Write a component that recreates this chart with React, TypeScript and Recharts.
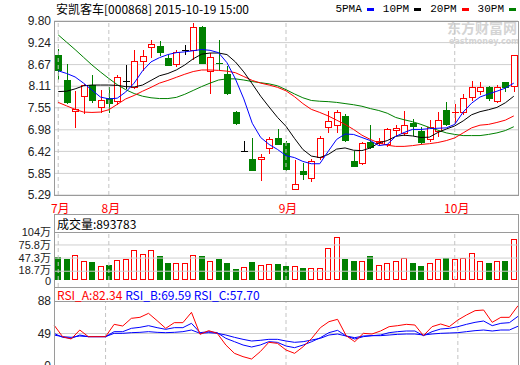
import React from 'react';
import { ComposedChart, Bar, Line, XAxis, YAxis, CartesianGrid, ReferenceLine } from 'recharts';

// trading days on screen (2015)
const dates = [
  '07-24', '07-27', '07-28', '07-29', '07-30', '07-31',
  '08-03', '08-04', '08-05', '08-06', '08-07', '08-10', '08-11', '08-12', '08-13', '08-14',
  '08-17', '08-18', '08-19', '08-20', '08-21', '08-24', '08-25', '08-26', '08-27', '08-28', '08-31',
  '09-01', '09-02', '09-07', '09-08', '09-09', '09-10', '09-11', '09-14', '09-15', '09-16',
  '09-17', '09-18', '09-21', '09-22', '09-23', '09-24', '09-25', '09-28', '09-29', '09-30',
  '10-08', '10-09', '10-12', '10-13', '10-14', '10-15', '10-16', '10-19',
];
const monthStarts = ['07-24', '08-03', '09-01', '10-08'];
const monthNames = ['7月', '8月', '9月', '10月'];

const opens = [
  8.93, 8.27, 7.47, 7.85, 8.14, 7.56, 7.80, 7.72, 8.24, 8.08,
  8.76, 9.13, 9.15, 8.84, 8.69, 9.06, 9.06, 9.65, 8.50, 8.72,
  8.43, 7.45, 6.42, 6.23, 6.22, 6.51, 6.77, 6.63, 5.44, 5.90,
  5.73, 6.27, 7.04, 7.10, 7.34, 6.16, 6.12, 6.67, 6.63, 6.60,
  6.97, 6.90, 7.15, 6.96, 6.73, 6.95, 7.50, 7.42, 7.45, 7.82,
  7.99, 8.10, 7.73, 8.22, 8.12,
];
const highs = [
  9.07, 8.69, 7.99, 8.16, 8.40, 8.01, 8.10, 8.39, 8.65, 9.06,
  9.04, 9.32, 9.29, 8.91, 9.06, 9.19, 9.74, 9.66, 8.97, 9.32,
  8.63, 7.46, 6.68, 6.76, 6.34, 6.79, 7.01, 6.68, 6.21, 6.12,
  6.22, 6.81, 7.47, 7.49, 7.40, 6.44, 6.66, 7.10, 6.77, 7.02,
  7.10, 7.47, 7.27, 7.04, 7.23, 7.44, 7.69, 7.64, 7.91, 8.25,
  8.21, 8.12, 8.14, 8.23, 8.93,
];
const lows = [
  8.30, 7.67, 7.05, 7.42, 7.69, 7.44, 7.43, 7.64, 8.06, 8.06,
  8.53, 8.87, 8.93, 8.65, 8.63, 8.95, 8.82, 8.70, 7.93, 8.54,
  7.91, 7.12, 6.42, 5.93, 5.68, 6.38, 6.60, 5.94, 5.44, 5.70,
  5.66, 6.23, 6.92, 6.92, 6.70, 6.03, 6.10, 6.51, 6.60, 6.57,
  6.84, 6.84, 6.84, 6.64, 6.70, 6.82, 7.10, 7.19, 7.38, 7.75,
  7.92, 7.75, 7.71, 7.98, 7.99,
];
const closes = [
  8.54, 7.69, 7.53, 8.14, 7.75, 7.75, 7.68, 8.34, 8.24, 8.76,
  8.89, 9.21, 9.00, 8.67, 9.00, 9.06, 9.65, 8.72, 8.87, 8.71,
  7.93, 7.15, 6.42, 5.94, 6.28, 6.75, 6.62, 5.97, 5.57, 5.83,
  6.18, 6.77, 7.21, 7.44, 6.71, 6.03, 6.64, 6.53, 6.70, 6.99,
  7.02, 7.10, 7.08, 6.67, 7.05, 7.23, 7.12, 7.43, 7.80, 8.10,
  8.08, 7.80, 8.08, 8.10, 8.91,
];

const ma5 = [
  8.51, 8.44, 8.35, 8.19, 8.01, 7.83, 7.78, 7.80, 7.96, 8.19,
  8.51, 8.74, 8.85, 8.93, 8.98, 9.00, 9.03, 9.06, 9.04, 8.98,
  8.72, 8.30, 7.78, 7.15, 6.78, 6.60, 6.47, 6.31, 6.26, 6.16,
  6.10, 6.10, 6.42, 6.73, 6.87, 6.86, 6.78, 6.70, 6.57, 6.60,
  6.81, 6.91, 6.99, 6.99, 7.01, 7.02, 7.03, 7.12, 7.44, 7.67,
  7.83, 7.91, 7.98, 8.06, 8.19,
];
const ma10 = [
  7.97, 7.98, 8.04, 8.12, 8.14, 8.14, 8.14, 8.13, 8.10, 8.09,
  8.14, 8.26, 8.38, 8.44, 8.53, 8.66, 8.82, 8.94, 8.97, 8.97,
  8.93, 8.74, 8.48, 8.17, 7.85, 7.57, 7.30, 7.07, 6.76, 6.47,
  6.30, 6.26, 6.34, 6.48, 6.51, 6.45, 6.44, 6.51, 6.64, 6.70,
  6.81, 6.84, 6.82, 6.78, 6.79, 6.91, 7.00, 7.08, 7.21, 7.37,
  7.45, 7.50, 7.56, 7.68, 7.85,
];
const ma20 = [
  7.69, 7.60, 7.51, 7.44, 7.43, 7.44, 7.50, 7.64, 7.78, 7.87,
  7.98, 8.08, 8.19, 8.26, 8.34, 8.42, 8.49, 8.53, 8.53, 8.52,
  8.50, 8.46, 8.36, 8.26, 8.19, 8.14, 8.08, 7.99, 7.84, 7.66,
  7.51, 7.43, 7.34, 7.23, 7.12, 6.99, 6.84, 6.73, 6.64, 6.58,
  6.55, 6.55, 6.57, 6.60, 6.62, 6.65, 6.70, 6.77, 6.90, 7.03,
  7.10, 7.12, 7.17, 7.23, 7.34,
];
const ma30 = [
  9.44, 9.25, 9.06, 8.86, 8.66, 8.48, 8.31, 8.15, 8.02, 7.92,
  7.85, 7.81, 7.79, 7.79, 7.82, 7.90, 8.00, 8.10, 8.19, 8.27,
  8.30, 8.30, 8.27, 8.23, 8.20, 8.17, 8.12, 8.02, 7.91, 7.81,
  7.74, 7.72, 7.71, 7.69, 7.66, 7.63, 7.59, 7.53, 7.48, 7.41,
  7.30, 7.24, 7.19, 7.12, 7.04, 6.97, 6.90, 6.86, 6.83, 6.83,
  6.83, 6.86, 6.90, 6.96, 7.06,
];

// volume in 万 shares
const volumes = [
  49, 46, 53, 40, 38, 31, 33, 44, 46, 64,
  57, 64, 51, 36, 36, 37, 53, 51, 40, 46,
  36, 24, 28, 38, 33, 35, 35, 29, 29, 26,
  26, 26, 70, 94, 46, 40, 41, 51, 32, 37,
  41, 48, 37, 31, 37, 46, 48, 46, 48, 59,
  41, 37, 40, 40, 89.38,
];

const rsiA = [
  59.2, 45.2, 42.4, 53.2, 45.2, 45.2, 45.2, 60, 58, 67.2,
  68.4, 73.2, 64.4, 55.2, 62, 62, 74.4, 48, 52.4, 49.2,
  35.2, 25.2, 21.2, 18.4, 27.2, 38.4, 37.2, 29.2, 25.2, 33.2,
  43.2, 56, 63.2, 66, 46.4, 39.2, 49.2, 48.4, 52, 57.2,
  58.4, 60, 59.2, 46.4, 57.2, 60.4, 57.2, 65.2, 71.2, 76.4,
  77.2, 62.4, 68.4, 68.4, 82.34,
];
const rsiB = [
  49.2, 44.4, 43.2, 47.2, 45.2, 45.2, 45.2, 51.2, 51.2, 55.2,
  56.4, 58.4, 56, 54, 56, 56, 61.2, 50, 51.2, 50,
  43.2, 39.2, 35.2, 32.8, 35.2, 39.2, 38.4, 34, 32, 35.2,
  39.2, 44, 50, 52.8, 46, 42.4, 45.2, 46.4, 47.2, 50,
  51.2, 52, 52, 46.4, 51.2, 54.4, 55.2, 57.2, 60, 62.4,
  64, 58.4, 61.2, 62, 69.59,
];
const rsiC = [
  47.2, 45.2, 44.4, 46, 45.2, 45.2, 45.2, 49.2, 49.2, 50,
  50.4, 51.2, 50.4, 50, 50.4, 51.2, 53.2, 49.2, 50, 49.2,
  47.2, 44.4, 42, 40, 40.8, 42, 42, 40, 38.4, 39.2,
  41.2, 43.2, 47.2, 48.4, 46, 44, 46, 46.4, 46.4, 47.2,
  48, 48.4, 48.4, 47.2, 48.4, 49.2, 49.6, 50, 51.2, 52.4,
  53.2, 52, 53.2, 53.2, 57.7,
];

const priceTicks = [9.8, 9.24, 8.67, 8.11, 7.55, 6.98, 6.42, 5.85, 5.29];
const volTicks = [0, 18.7, 47.3, 75.8, 104];
const volGrid = [18.7, 47.3, 75.8];
const rsiTicks = [10, 49, 88];

const rows = dates.map((date, i) => ({
  date,
  open: opens[i], high: highs[i], low: lows[i], close: closes[i],
  ma5: ma5[i], ma10: ma10[i], ma20: ma20[i], ma30: ma30[i],
  vol: volumes[i],
  rsiA: rsiA[i], rsiB: rsiB[i], rsiC: rsiC[i],
}));

const RED = '#ff0000';
const GREEN = '#008000';
const BLUE = '#0000ff';
const GRID = '#cfcfcf';
const FRAME = '#9a9a9a';
const CJK = "'Noto Sans CJK SC', 'Liberation Sans', sans-serif";
const MONO = "'Liberation Mono', 'Noto Sans CJK SC', monospace";
const SANS = "'Liberation Sans', 'Noto Sans CJK SC', sans-serif";
const tickStyle = { fontSize: 12, fill: '#222', fontFamily: SANS };

function Candle(props: any) {
  const { x, y, width, height, payload } = props;
  const { open, close, high, low } = payload;
  const top0 = Math.min(y, y + height);
  const span = Math.abs(height);
  const py = (v: number) => (high > low ? top0 + ((high - v) / (high - low)) * span : top0);
  const mid = Math.round(x + width / 2);
  const left = mid - 3;
  const color = close > open ? RED : close < open ? GREEN : '#000000';
  const top = Math.round(py(Math.max(open, close)));
  const bot = Math.round(py(Math.min(open, close)));
  const h = bot - top;
  const wick = (
    <line x1={mid + 0.5} x2={mid + 0.5} y1={Math.round(py(high))} y2={Math.round(py(low)) + 1} stroke={color} />
  );
  if (h < 2) {
    return (
      <g>
        {wick}
        <line x1={left} x2={left + 7} y1={top + 0.5} y2={top + 0.5} stroke={color} />
      </g>
    );
  }
  if (close > open) {
    return (
      <g>
        {wick}
        <rect x={left + 0.5} y={top + 0.5} width={6} height={h} fill="#ffffff" stroke={color} />
      </g>
    );
  }
  return (
    <g>
      {wick}
      <rect x={left} y={top} width={7} height={h + 1} fill={color} />
    </g>
  );
}

function VolBar(props: any) {
  const { x, y, width, height, payload } = props;
  const mid = Math.round(x + width / 2);
  const left = mid - 3;
  const top = Math.round(Math.min(y, y + height));
  const bot = Math.round(Math.max(y, y + height));
  if (payload.close >= payload.open) {
    return <rect x={left + 0.5} y={top + 0.5} width={5} height={bot - top - 1} fill="#ffffff" stroke={RED} />;
  }
  return <rect x={left} y={top} width={6} height={bot - top} fill={GREEN} />;
}

// volume axis labels sit tight, as in the original
const volTick = (props: any) => {
  const { x, y, payload } = props;
  const v = payload.value;
  const shift = v === 0 ? 1.5 : v === 18.7 ? -1.5 : 0;
  return (
    <text x={x} y={y + shift} dy="0.355em" textAnchor="end" fontSize={11} fill="#222" fontFamily={SANS}>
      {v === 0 ? '0' : `${v}万`}
    </text>
  );
};

const monthTick = (props: any) => {
  const { x, y, payload } = props;
  const k = monthStarts.indexOf(payload.value);
  if (k < 0) return <g />;
  return (
    <text x={x + 2} y={y + 10} textAnchor="middle" fill={RED} fontSize={12} fontFamily={CJK}>
      {monthNames[k]}
    </text>
  );
};

const box = (left: number, top: number, width: number, height: number, extra: any = {}) => ({
  position: 'absolute' as const,
  left, top, width, height,
  boxSizing: 'border-box' as const,
  border: `1px solid ${FRAME}`,
  pointerEvents: 'none' as const,
  ...extra,
});

const legendItems = [
  { label: '5PMA', color: BLUE },
  { label: '10PM', color: '#000000' },
  { label: '20PM', color: RED },
  { label: '30PM', color: GREEN },
];

export default function App() {
  return (
    <div style={{ position: 'absolute', left: 0, top: 0, width: 520, height: 365, overflow: 'hidden', background: '#fff' }}>
      {/* watermark */}
      <div style={{ position: 'absolute', left: 447, top: 20, color: '#d4d4d4', fontFamily: CJK, fontSize: 14, fontWeight: 700, lineHeight: '15px', whiteSpace: 'nowrap' }}>
        东方财富网
      </div>
      <div style={{ position: 'absolute', left: 449, top: 37, color: '#d4d4d4', fontFamily: "'DejaVu Sans', sans-serif", fontSize: 8, fontWeight: 700, lineHeight: '9px', whiteSpace: 'nowrap' }}>
        eastmoney.com
      </div>

      <div style={{ position: 'absolute', left: 56, top: 1, fontFamily: CJK, fontSize: 12, lineHeight: '16px', color: '#000', whiteSpace: 'pre' }}>
        安凯客车[000868] 2015-10-19 15:00
      </div>
      <div style={{ position: 'absolute', right: 4, top: 2, fontFamily: MONO, fontSize: 11, lineHeight: '14px', color: '#000', display: 'flex', alignItems: 'center', whiteSpace: 'pre' }}>
        {legendItems.map((it, i) => (
          <span key={it.label} style={{ display: 'flex', alignItems: 'center' }}>
            <span>{it.label}</span>
            <span style={{ display: 'inline-block', width: 7, height: 3, background: it.color, margin: i < 3 ? '0 9px 0 5px' : '0 0 0 5px' }} />
          </span>
        ))}
      </div>

      {/* price panel */}
      <div style={{ position: 'absolute', left: 0, top: 0 }}>
        <ComposedChart width={520} height={215} data={rows} margin={{ top: 21, right: 2, bottom: 0, left: 0 }}>
          <CartesianGrid vertical={false} stroke={GRID} />
          <XAxis dataKey="date" interval={0} tickLine={false} axisLine={false} height={20} tick={monthTick} />
          <YAxis
            domain={[5.29, 9.8]}
            ticks={priceTicks}
            interval={0}
            width={54}
            tickLine={false}
            axisLine={false}
            tickSize={0}
            tickMargin={3}
            tick={tickStyle}
            tickFormatter={(v: number) => v.toFixed(2)}
          />
          {monthStarts.map((d) => (
            <ReferenceLine key={d} x={d} stroke="#c4c4c4" strokeDasharray="4 3" />
          ))}
          <Bar dataKey={(d: any) => [d.low, d.high]} shape={(p: any) => <Candle {...p} />} isAnimationActive={false} />
          <Line dataKey="ma30" stroke={GREEN} dot={false} strokeWidth={1} isAnimationActive={false} />
          <Line dataKey="ma20" stroke={RED} dot={false} strokeWidth={1} isAnimationActive={false} />
          <Line dataKey="ma10" stroke="#000000" dot={false} strokeWidth={1} isAnimationActive={false} />
          <Line dataKey="ma5" stroke={BLUE} dot={false} strokeWidth={1} isAnimationActive={false} />
        </ComposedChart>
      </div>

      {/* volume panel */}
      <div style={{ position: 'absolute', left: 0, top: 224 }}>
        <ComposedChart width={520} height={70} data={rows} margin={{ top: 8, right: 2, bottom: 7, left: 0 }}>
          <XAxis dataKey="date" hide />
          <YAxis
            domain={[-15.6, 104]}
            ticks={volTicks}
            interval={0}
            width={54}
            tickLine={false}
            axisLine={false}
            tickSize={0}
            tickMargin={3}
            tick={volTick}
          />
          {volGrid.map((v) => (
            <ReferenceLine key={v} y={v} stroke={GRID} />
          ))}
          {monthStarts.map((d) => (
            <ReferenceLine key={d} x={d} stroke="#c4c4c4" strokeDasharray="4 3" />
          ))}
          <Bar dataKey="vol" shape={(p: any) => <VolBar {...p} />} isAnimationActive={false} />
        </ComposedChart>
      </div>

      {/* RSI panel */}
      <div style={{ position: 'absolute', left: 0, top: 293 }}>
        <ComposedChart width={520} height={79} data={rows} margin={{ top: 8, right: 2, bottom: 6, left: 0 }}>
          <XAxis dataKey="date" hide />
          <YAxis
            domain={[10, 88]}
            ticks={rsiTicks}
            interval={0}
            width={54}
            tickLine={false}
            axisLine={false}
            tickSize={0}
            tickMargin={3}
            tick={tickStyle}
            tickFormatter={(v: number) => (v === 10 ? '0' : String(v))}
          />
          <ReferenceLine y={49} stroke={GRID} />
          {monthStarts.map((d) => (
            <ReferenceLine key={d} x={d} stroke="#c4c4c4" strokeDasharray="4 3" />
          ))}
          <Line dataKey="rsiC" stroke={BLUE} dot={false} strokeWidth={1} isAnimationActive={false} />
          <Line dataKey="rsiB" stroke={BLUE} dot={false} strokeWidth={1} isAnimationActive={false} />
          <Line dataKey="rsiA" stroke={RED} dot={false} strokeWidth={1} isAnimationActive={false} />
        </ComposedChart>
      </div>

      {/* panel frames and headers */}
      <div style={box(54, 21, 465, 175)} />
      <div style={box(54, 214, 465, 74)} />
      <div style={box(54, 214, 465, 19, { fontFamily: CJK, fontSize: 12, lineHeight: '17px', paddingLeft: 2, color: '#000' })}>
        成交量:893783
      </div>
      <div style={box(54, 287, 465, 100)} />
      <div style={box(54, 287, 465, 15, { fontFamily: CJK, fontSize: 12, lineHeight: '13px', paddingLeft: 2, whiteSpace: 'pre' })}>
        <span style={{ color: RED }}>RSI_A:82.34</span>
        <span style={{ color: BLUE }}> RSI_B:69.59</span>
        <span style={{ color: BLUE }}> RSI_C:57.70</span>
      </div>
    </div>
  );
}
